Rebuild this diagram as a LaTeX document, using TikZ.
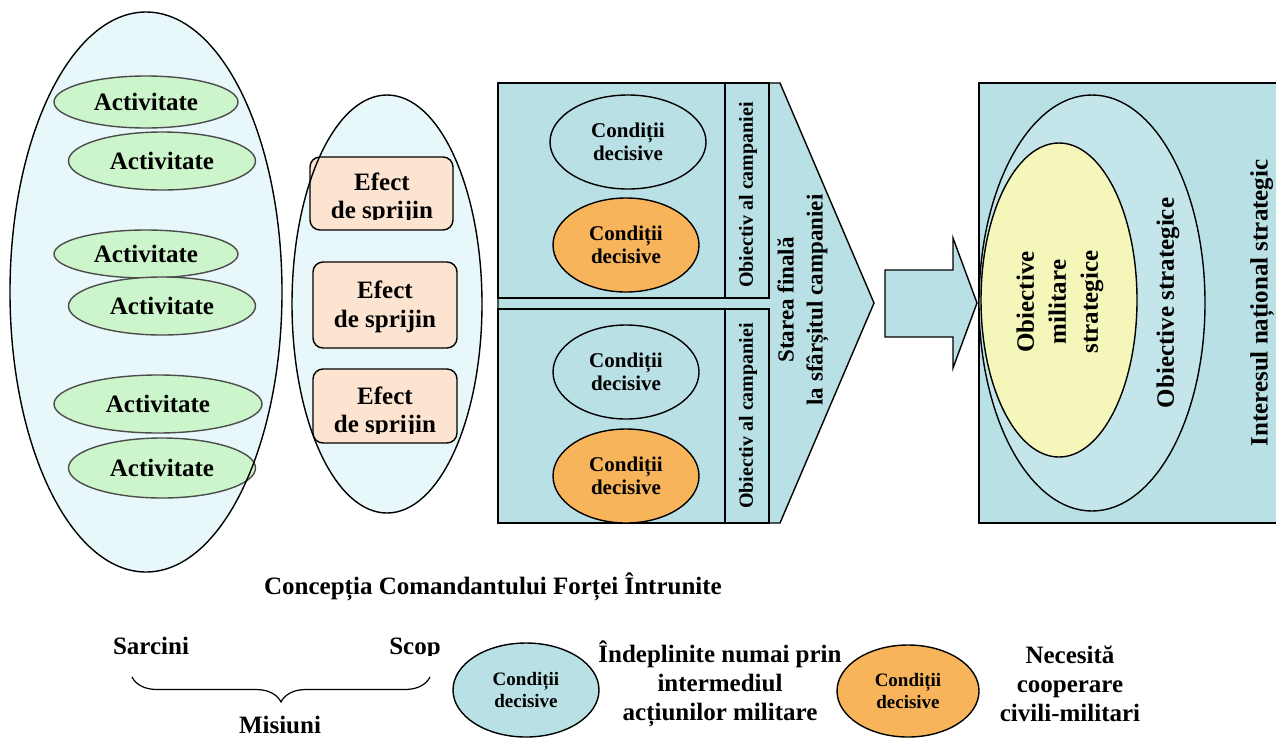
\documentclass[tikz,border=0pt]{standalone}
\usepackage{fontspec}
\setmainfont{Liberation Serif}
\usetikzlibrary{shapes.geometric,decorations.pathreplacing}
\definecolor{paleblue}{RGB}{232,247,250}
\definecolor{actgreen}{RGB}{204,245,204}
\definecolor{peach}{RGB}{252,228,208}
\definecolor{blockteal}{RGB}{185,224,228}
\definecolor{orangec}{RGB}{247,180,90}
\definecolor{yellowc}{RGB}{244,247,185}
\definecolor{outerblue}{RGB}{196,230,234}
\tikzset{
  bigell/.style={ellipse, fill=paleblue, inner sep=0pt},
  act/.style={ellipse, draw=black!70, line width=1.4pt, fill=actgreen, inner sep=0pt,
    font=\bfseries\fontsize{25}{29}\selectfont},
  efbox/.style={draw, rounded corners=10pt, fill=peach, inner sep=0pt},
  eftxt/.style={anchor=base, inner sep=0pt, font=\bfseries\fontsize{25}{29}\selectfont},
  cd/.style={ellipse, draw, inner sep=0pt, align=center,
    font=\bfseries\fontsize{21}{23}\selectfont},
  cdsmall/.style={ellipse, draw, inner sep=0pt, align=center,
    font=\bfseries\fontsize{19}{22}\selectfont},
  vtxt/.style={rotate=90, inner sep=0pt, align=center},
  txt/.style={inner sep=0pt, align=center, font=\bfseries\fontsize{25}{29}\selectfont},
}
\begin{document}
\begin{tikzpicture}[x=1pt,y=-1pt,line width=1.4pt]
\useasboundingbox (0,0) rectangle (1276,737);
\clip (0,0) rectangle (1276,737);

% ---- left big ellipse with activities
\node[bigell, minimum width=272pt, minimum height=560pt] (bigA) at (146,292) {};
\node[act, minimum width=184pt, minimum height=52pt] (a1) at (146,102) {Activitate};
\node[act, minimum width=187pt, minimum height=58pt] (a2) at (162,161) {Activitate};
\node[act, minimum width=184pt, minimum height=48pt] (a3) at (146,254) {Activitate};
\node[act, minimum width=187pt, minimum height=58pt] (a4) at (162,306) {Activitate};
\node[act, minimum width=208pt, minimum height=58pt] (a5) at (158,404) {Activitate};
\node[act, minimum width=187pt, minimum height=60pt] (a6) at (162,468) {Activitate};
\draw (bigA.center) ellipse [x radius=136pt, y radius=280pt];

% ---- effects ellipse
\node[bigell, minimum width=190pt, minimum height=418pt] (bigE) at (387,304) {};
\node[efbox, minimum width=143pt, minimum height=73pt] (e1) at (381.5,193.5) {};
\node[efbox, minimum width=144pt, minimum height=86pt] (e2) at (385,305) {};
\node[efbox, minimum width=144pt, minimum height=74pt] (e3) at (385,406) {};
\begin{scope}
  \clip (310,157) rectangle (453,219);
  \node[eftxt] (e1a) at (382,190) {Efect};
  \node[eftxt] (e1b) at (382,218.5) {de sprijin};
\end{scope}
\node[eftxt] (e2a) at (385,298) {Efect};
\node[eftxt] (e2b) at (385,327) {de sprijin};
\begin{scope}
  \clip (313,369) rectangle (457,433);
  \node[eftxt] (e3a) at (385,404) {Efect};
  \node[eftxt] (e3b) at (385,432.5) {de sprijin};
\end{scope}
\draw (bigE.center) ellipse [x radius=95pt, y radius=209pt];

% ---- campaign block
\draw[fill=blockteal] (498,83) -- (780,83) -- (874,303) -- (780,523) -- (498,523) -- cycle;
\draw (498,83) rectangle (769,298);
\draw (725,83) -- (725,298);
\draw (498,309) rectangle (769,523);
\draw (725,309) -- (725,523);
\node[cd, minimum width=156pt, minimum height=94pt] (c1) at (628,142) {Condiții\\decisive};
\node[cd, fill=orangec, minimum width=146pt, minimum height=94pt] (c2) at (626,245) {Condiții\\decisive};
\node[cd, minimum width=146pt, minimum height=94pt] (c3) at (626,372) {Condiții\\decisive};
\node[cd, fill=orangec, minimum width=146pt, minimum height=94pt] (c4) at (626,476) {Condiții\\decisive};
\node[vtxt, font=\bfseries\fontsize{20}{23}\selectfont] (o1) at (748,195) {Obiectiv al campaniei};
\node[vtxt, font=\bfseries\fontsize{20}{23}\selectfont] (o2) at (748,416) {Obiectiv al campaniei};
\node[vtxt, font=\bfseries\fontsize{23}{29}\selectfont] (sf) at (803,300) {Starea finală\\la sfârșitul campaniei};

% ---- block arrow
\draw[fill=blockteal] (885,270) -- (953,270) -- (953,238) -- (977,303) -- (953,368) -- (953,337) -- (885,337) -- cycle;

% ---- strategic box
\draw[fill=blockteal] (979,83) rectangle (1290,523);
\node[ellipse, draw, fill=outerblue, inner sep=0pt, minimum width=226pt, minimum height=416pt] (os) at (1092,303) {};
\node[ellipse, draw, fill=yellowc, inner sep=0pt, minimum width=156pt, minimum height=314pt] (om) at (1059,300) {};
\node[vtxt, font=\bfseries\fontsize{25}{32}\selectfont] (omt) at (1060,302) {Obiective\\militare\\strategice};
\node[vtxt, font=\bfseries\fontsize{25}{29}\selectfont] (ost) at (1168,303) {Obiective strategice};
\node[vtxt, font=\bfseries\fontsize{25}{29}\selectfont] (ins) at (1262,303) {Interesul național strategic};

% ---- bottom
\node[txt] (conc) at (493,587) {Concepția Comandantului Forței Întrunite};
\begin{scope}
  \clip (100,620) rectangle (470,655);
  \node[eftxt] (sarc) at (151,654) {Sarcini};
  \node[eftxt] (scop) at (415,654) {Scop};
\end{scope}
\coordinate (bl) at (132,677);
\coordinate (br) at (430,677);
\draw[line width=1.2pt, decorate, decoration={brace, mirror, amplitude=25pt}] (bl) -- (br);
\node[eftxt] (mis) at (280,733) {Misiuni};

\node[cdsmall, fill=blockteal, minimum width=146pt, minimum height=94pt] (l1) at (526,690) {Condiții\\decisive};
\node[txt] (l1t) at (720,684) {Îndeplinite numai prin\\intermediul\\acțiunilor militare};
\node[cdsmall, fill=orangec, minimum width=142pt, minimum height=92pt] (l2) at (908,691) {Condiții\\decisive};
\node[txt] (l2t) at (1070,684) {Necesită\\cooperare\\civili-militari};
\end{tikzpicture}
\end{document}
